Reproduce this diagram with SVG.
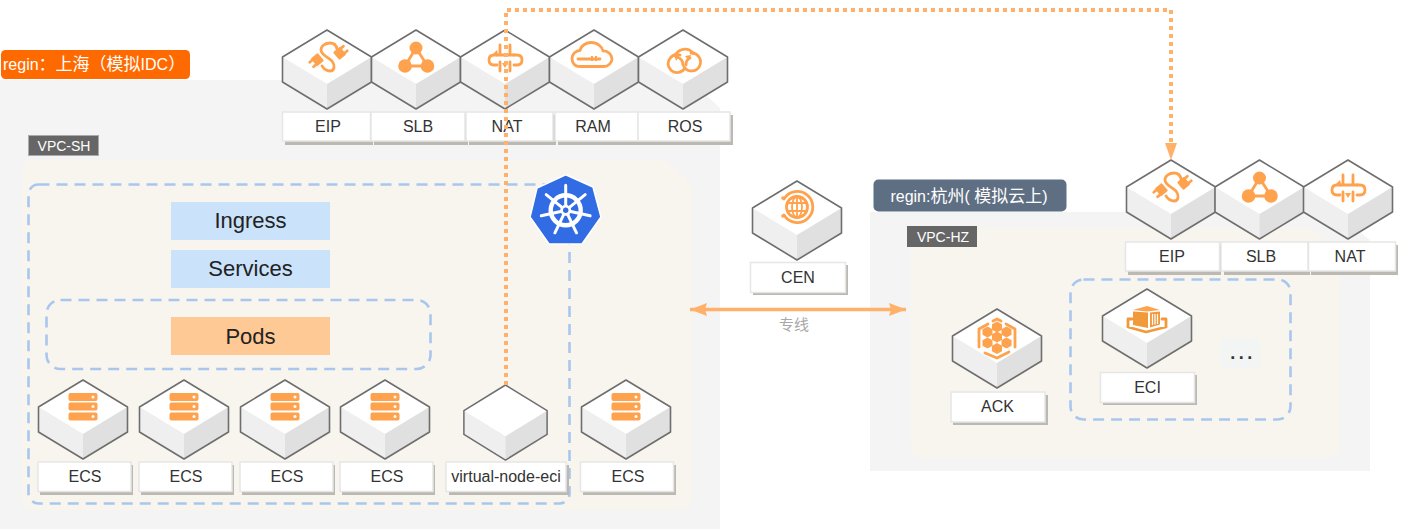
<svg xmlns="http://www.w3.org/2000/svg" width="1401" height="530" viewBox="0 0 1401 530">
<style>
text{font-family:"Liberation Sans","Noto Sans CJK SC",sans-serif;fill:#333}
.lb{font-size:16px;text-anchor:middle}
.big{font-size:22px;text-anchor:middle;fill:#222}
.wt{fill:#fff;font-size:16px}
.wt tspan{fill:#fff;font-size:17px}
.vpc{fill:#fff;font-size:14px;text-anchor:middle}
.dash{fill:none;stroke:#a9c6ee;stroke-width:2.6;stroke-dasharray:11 7}
.tag{fill:#fff;stroke:#e6e6e6;stroke-width:1.5}
.sh{fill:#bbb9b1}
.ic{fill:none;stroke:#ffa24d;stroke-width:2.8;stroke-linecap:round;stroke-linejoin:round}
.th{fill:none;stroke:#ffa24d;stroke-width:1.8;stroke-linecap:round}
.if{fill:#ffa24d}
.dk{fill:#f09a3c}
</style>
<defs>
<g id="cube">
<path d="M0 0L44.500 27L0 54L-44.500 27Z" fill="#fff"/>
<path d="M-44.500 27L0 54V79L-44.500 52Z" fill="#efefef"/>
<path d="M44.500 27L0 54V79L44.500 52Z" fill="#dfe0df"/>
<path d="M0 0L44.500 27V52L0 79L-44.500 52V27Z" fill="none" stroke="#6e6e6e" stroke-width="1.6" stroke-linejoin="round"/>
</g>
<g id="srv">
<rect x="-14.500" y="13" width="29" height="8" rx="2" class="if"/><circle cx="10" cy="17" r="1.500" fill="#fff"/>
<rect x="-14.500" y="22.500" width="29" height="8" rx="2" class="if"/><circle cx="10" cy="26.500" r="1.500" fill="#fff"/>
<rect x="-14.500" y="32.500" width="29" height="8" rx="2" class="if"/><circle cx="10" cy="36.500" r="1.500" fill="#fff"/>
</g>
<g id="i-eip">
<path class="ic" d="M10 19C9 14 6 13 3 13C-2 13-6 16-6 20C-6 25 1 27 5 31C8 35 8 41 3 41C-1 41-3 39-5 36" stroke-width="3"/>
<g transform="rotate(-40 -10 30)"><rect x="-14" y="25" width="9" height="10" rx="1" class="if"/><path class="ic" stroke-width="2" d="M-17 27H-14M-17 33H-14"/></g>
<g transform="rotate(-40 13 23)"><rect x="8" y="18" width="9" height="10" rx="1" class="if"/><path class="ic" stroke-width="2" d="M17 20H20M17 26H20"/></g>
</g>
<g id="i-slb">
<path class="ic" d="M0 18L-11 36H11.500Z"/>
<circle cx="0" cy="18" r="6.500" class="if"/><circle cx="-11" cy="36" r="6.800" class="if"/><circle cx="11.500" cy="36" r="6.800" class="if"/>
</g>
<g id="i-nat">
<path class="ic" d="M-8 25H-11C-15 25-16 27-16 30C-16 33-15 35-11 35H-8M9 25H12C16 25 17 27 17 30C17 33 16 35 12 35H9"/>
<path class="ic" d="M-5 15V25M-5 32V41M5 15V25M5 32V41M-8 25H9"/>
<path class="if" d="M-8 20L-12 24H-7ZM0 38L-3 33H3Z"/>
</g>
<g id="i-ram">
<path class="ic" d="M-14 36.500C-20 36.500-22 32-22 28.500C-22 24-18 20.500-14 20.500C-13 15-7 12.500-3 12.500C4 12.500 8 17 9 21C14 20.500 18 25 18 29C18 33 14 36.500 10 36.500Z"/>
<path class="ic" stroke-width="2.400" d="M-16 29H6"/>
<path class="if" d="M-3 26H-1V31H-3ZM1 26H3V31H1Z"/>
</g>
<g id="i-ros">
<path class="ic" d="M-8 26A10.500 10.500 0 0 1 10 23"/>
<path class="ic" d="M8 23A9 9 0 1 1 1 37"/>
<path class="ic" d="M-3 25A9 9 0 1 0 2 38"/>
<path class="ic" stroke-width="2" d="M0 35C0 30-3 28-6 27M3 35C3 31 4 29 7 28"/>
<path class="if" d="M-9 24L-3 25L-7 31ZM2 26L8 25L6 31Z"/>
</g>
<g id="i-cen">
<path class="ic" stroke-width="2.600" d="M-13 18A15.500 15.500 0 1 1 -13 34"/>
<circle cx="-14" cy="17" r="1.800" class="if"/><circle cx="-14" cy="35" r="1.800" class="if"/>
<circle cx="0" cy="26" r="10.500" class="ic" stroke-width="2.200"/>
<ellipse cx="0" cy="26" rx="5" ry="10.500" class="th"/>
<path class="th" d="M0 15.500V36.500M-10 22H10M-10 30H10"/>
</g>
<polygon id="hx" points="0,-5.500 5,-2.800 5,2.800 0,5.500 -5,2.800 -5,-2.800"/>
<g id="i-ack">
<path class="ic" stroke-width="2" d="M-4 12L0 10L4 12M9 15L18 20V38M12 43L0 49L-12 44M-18 38V20L-9 15"/>
<use href="#hx" x="0" y="18" class="if"/><use href="#hx" x="-9.500" y="23" class="if"/><use href="#hx" x="9.500" y="23" class="if"/><use href="#hx" x="0" y="28" class="if"/><use href="#hx" x="-9.500" y="34" class="if"/><use href="#hx" x="9.500" y="34" class="if"/><use href="#hx" x="0" y="39.500" class="if"/>
</g>
<g id="i-eci">
<path class="if" d="M-14 21L0 17L13 21L0 22.500Z"/>
<path class="dk" d="M-14 22.500L1 23.500V39L-14 36ZM3 23.500L13 22.500V35.500L3 38.500Z"/>
<path d="M5.500 25V36M8 25V35.500M10.500 25V35" stroke="#fff" stroke-width="1.200" fill="none"/>
<path class="ic" stroke-width="2.200" stroke="#f09a3c" style="stroke:#f09a3c" d="M-15 30H-19V38L-1 43L19 38V30H15"/>
</g>
<marker id="a1" markerUnits="userSpaceOnUse" markerWidth="12" markerHeight="18" refX="6" refY="17.500" orient="0" viewBox="0 0 12 18">
<path d="M0 0H12L6 18Z" fill="#ffb16a"/>
</marker>
<marker id="a2" markerUnits="userSpaceOnUse" markerWidth="18" markerHeight="13" refX="17" refY="6.500" orient="auto-start-reverse" viewBox="0 0 18 13">
<path d="M0 0L17 6.500L0 13L2 6.500Z" fill="#ffb16a"/>
</marker>
</defs>

<g id="bg">
<path d="M0 80H690L720 108V529H0Z" fill="#f4f4f4"/>
<path d="M35 160H665L692 185V498Q692 510 680 510H34Q22 510 22 498V173Q22 160 35 160Z" fill="#f8f5ee"/>
<path d="M870 212H1335L1370 240V471H870Z" fill="#f4f4f4"/>
<path d="M911 227H1310L1340 255V446Q1340 458 1328 458H923Q911 458 911 446Z" fill="#f8f5ee"/>
</g>

<g id="region-sh">
<rect x="1" y="50" width="189" height="29" rx="4.500" fill="#ff6a00"/>
<text x="3" y="70" class="wt">regin<tspan>：上海（模拟</tspan>IDC<tspan>）</tspan></text>
</g>
<g id="region-hz">
<rect x="873.500" y="179.500" width="193" height="32" rx="5" fill="#5f6f83"/>
<text x="969" y="202" class="wt" text-anchor="middle">regin:<tspan>杭州</tspan>( <tspan>模拟云上</tspan>)</text>
</g>
<g id="vpc-sh">
<rect x="28.500" y="135.500" width="70" height="20" fill="#666" stroke="#aaa"/>
<text x="64" y="151" class="vpc">VPC-SH</text>
</g>
<g id="vpc-hz">
<rect x="907" y="226" width="70" height="21" fill="#666"/>
<text x="943" y="242" class="vpc">VPC-HZ</text>
</g>

<g id="cluster-sh"><rect x="28.500" y="184.500" width="541" height="319" rx="10" class="dash"/></g>
<g id="pods-box"><rect x="46.500" y="300" width="384" height="69" rx="14" class="dash"/></g>
<g id="eci-box"><rect x="1070.500" y="279.500" width="220" height="140" rx="13" class="dash"/></g>

<g id="ingress"><rect x="171" y="202" width="159" height="38" fill="#cae3fb"/><text x="250.500" y="228" class="big">Ingress</text></g>
<g id="services"><rect x="171" y="250" width="159" height="38" fill="#cae3fb"/><text x="250.500" y="276" class="big">Services</text></g>
<g id="pods"><rect x="171" y="317" width="159" height="38" fill="#fec994"/><text x="250.500" y="344" class="big">Pods</text></g>

<g id="k8s">
<path d="M565.700 174.700L593 187L601 217L582 244H549L530 217L537 188Z" fill="#326ce5" stroke="#fff" stroke-width="1.600" stroke-linejoin="round"/>
<g transform="translate(565.700 210.300)" stroke="#fff" fill="none" stroke-linecap="round">
<circle r="15" stroke-width="4.400"/>
<path stroke-width="3" d="M0 -4V-25M3.100 -2.500L19.500 -15.600M3.900 .9L24.400 5.500M1.700 3.600L10.800 22.500M-1.700 3.600L-10.800 22.500M-3.900 .9L-24.400 5.500M-3.100 -2.500L-19.500 -15.600"/>
<circle r="5.500" fill="#fff" stroke="none"/>
<circle r="2.700" fill="#326ce5" stroke="none"/>
</g>
</g>

<g id="eip-sh"><use href="#cube" x="327" y="30"/><use href="#i-eip" x="327" y="30"/><rect x="285" y="115" width="88" height="30" class="sh"/><rect x="282.500" y="112" width="88" height="29" class="tag"/><text x="328" y="132" class="lb">EIP</text></g>
<g id="slb-sh"><use href="#cube" x="416" y="30"/><use href="#i-slb" x="416" y="30"/><rect x="374" y="115" width="94" height="30" class="sh"/><rect x="371" y="112" width="94" height="29" class="tag"/><text x="418" y="132" class="lb">SLB</text></g>
<g id="nat-sh"><use href="#cube" x="505" y="30"/><use href="#i-nat" x="505" y="30"/><rect x="469" y="115" width="87" height="30" class="sh"/><rect x="466" y="112" width="87" height="29" class="tag"/><text x="507" y="132" class="lb">NAT</text></g>
<g id="ram-sh"><use href="#cube" x="594" y="30"/><use href="#i-ram" x="594" y="30"/><rect x="558" y="115" width="83" height="30" class="sh"/><rect x="555" y="112" width="83" height="29" class="tag"/><text x="593" y="132" class="lb">RAM</text></g>
<g id="ros-sh"><use href="#cube" x="683" y="30"/><use href="#i-ros" x="683" y="30"/><rect x="641" y="115" width="92" height="30" class="sh"/><rect x="638" y="112" width="92" height="29" class="tag"/><text x="685" y="132" class="lb">ROS</text></g>

<g id="ecs-1"><use href="#cube" x="83" y="380"/><use href="#srv" x="83" y="380"/><rect x="40" y="465" width="93" height="30" class="sh"/><rect x="38" y="462" width="93" height="29.500" class="tag"/><text x="85" y="482" class="lb">ECS</text></g>
<g id="ecs-2"><use href="#cube" x="184" y="380"/><use href="#srv" x="184" y="380"/><rect x="141" y="465" width="93" height="30" class="sh"/><rect x="139" y="462" width="93" height="29.500" class="tag"/><text x="186" y="482" class="lb">ECS</text></g>
<g id="ecs-3"><use href="#cube" x="285" y="380"/><use href="#srv" x="285" y="380"/><rect x="242" y="465" width="93" height="30" class="sh"/><rect x="240" y="462" width="93" height="29.500" class="tag"/><text x="287" y="482" class="lb">ECS</text></g>
<g id="ecs-4"><use href="#cube" x="385" y="380"/><use href="#srv" x="385" y="380"/><rect x="342" y="465" width="93" height="30" class="sh"/><rect x="340" y="462" width="93" height="29.500" class="tag"/><text x="387" y="482" class="lb">ECS</text></g>
<g id="virtual-node"><use href="#cube" transform="translate(505.500 385) scale(.935 .95)"/><rect x="449" y="465" width="120" height="30" class="sh"/><rect x="446" y="462" width="120" height="29.500" class="tag"/><text x="506" y="482" class="lb">virtual-node-eci</text></g>
<g id="ecs-5"><use href="#cube" x="626" y="380"/><use href="#srv" x="626" y="380"/><rect x="583" y="465" width="93" height="30" class="sh"/><rect x="580.500" y="462" width="93" height="29.500" class="tag"/><text x="628" y="482" class="lb">ECS</text></g>

<g id="cen"><use href="#cube" x="797" y="181"/><use href="#i-cen" x="797" y="181"/><rect x="753" y="265" width="95" height="30" class="sh"/><rect x="750.500" y="262.500" width="95" height="30" class="tag"/><text x="798" y="283" class="lb">CEN</text></g>

<g id="eip-hz"><use href="#cube" x="1171" y="160"/><use href="#i-eip" x="1171" y="160"/><rect x="1128" y="245" width="93" height="30" class="sh"/><rect x="1125.500" y="242" width="94" height="29" class="tag"/><text x="1172" y="262" class="lb">EIP</text></g>
<g id="slb-hz"><use href="#cube" x="1259.500" y="160"/><use href="#i-slb" x="1259.500" y="160"/><rect x="1224" y="245" width="86" height="30" class="sh"/><rect x="1221" y="242" width="87" height="29" class="tag"/><text x="1261" y="262" class="lb">SLB</text></g>
<g id="nat-hz"><use href="#cube" x="1348" y="160"/><use href="#i-nat" x="1348" y="160"/><rect x="1311" y="245" width="87" height="30" class="sh"/><rect x="1308.500" y="242" width="87" height="29" class="tag"/><text x="1350" y="262" class="lb">NAT</text></g>

<g id="ack"><use href="#cube" x="997" y="309"/><use href="#i-ack" x="997" y="309"/><rect x="953" y="395" width="95" height="30" class="sh"/><rect x="951" y="392" width="94" height="30" class="tag"/><text x="997.500" y="412" class="lb">ACK</text></g>
<g id="eci"><use href="#cube" x="1147" y="289"/><use href="#i-eci" x="1147" y="289"/><rect x="1103" y="375" width="94" height="30" class="sh"/><rect x="1100.500" y="372.500" width="94" height="30" class="tag"/><text x="1147.500" y="393" class="lb">ECI</text></g>
<g id="more"><rect x="1221" y="339" width="39" height="29" fill="#f3f4f4"/><text x="1243" y="359" font-size="18" text-anchor="middle" letter-spacing="3.500" font-weight="bold">...</text></g>

<g id="connectors">
<path d="M506 385V10H1171V144" fill="none" stroke="#ffb16a" stroke-width="4" stroke-dasharray="4 4"/>
<path d="M1165 143H1177L1171 160Z" fill="#ffb16a"/>
<path d="M690 309.500H906" fill="none" stroke="#ffb16a" stroke-width="3.400" marker-start="url(#a2)" marker-end="url(#a2)"/>
<text x="794" y="330" font-size="15" text-anchor="middle" style="fill:#a8a8a8">专线</text>
</g>
</svg>
